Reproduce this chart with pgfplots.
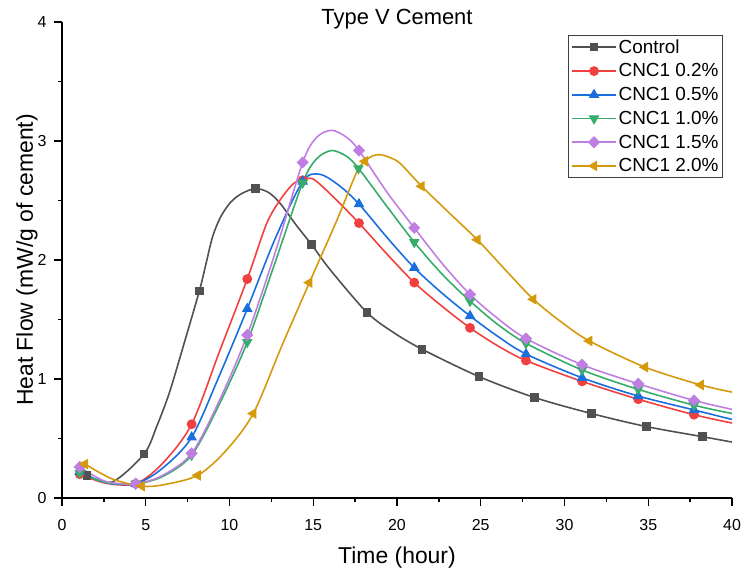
\documentclass[border=0pt]{standalone}
\usepackage{pgfplots}
\pgfplotsset{compat=1.18}
\usepackage{fontspec}
\setmainfont{Liberation Sans}
\definecolor{cCtrl}{HTML}{515151}
\definecolor{cRed}{HTML}{F14040}
\definecolor{cBlue}{HTML}{1A6FDF}
\definecolor{cGreen}{HTML}{37AD6B}
\definecolor{cPurple}{HTML}{BF7FE2}
\definecolor{cGold}{HTML}{D49A0B}
\begin{document}
\begin{tikzpicture}
\path[use as bounding box] (-62bp,-78bp) rectangle (687bp,498bp);
\begin{axis}[
  at={(0,0)}, anchor=south west, scale only axis,
  width=670bp, height=476bp,
  xmin=0, xmax=40, ymin=0, ymax=4,
  axis lines*=left,
  axis line style={line width=1.3bp, black},
  xtick={0,5,...,40}, ytick={0,1,2,3,4},
  minor x tick num=1, minor y tick num=1,
  tick align=outside,
  major tick length=8bp, minor tick length=4bp,
  every tick/.style={line width=1.3bp, black},
  /pgf/number format/assume math mode=true,
  ticklabel style={font=\fontsize{16}{19}\selectfont},
  xticklabel style={yshift=-10bp},
  yticklabel style={xshift=-4bp},
  xlabel={Time (hour)},
  ylabel={Heat Flow (mW/g of cement)},
  xlabel style={at={(axis description cs:0.5,-0.1366)}, anchor=base, font=\fontsize{23}{27}\selectfont},
  ylabel style={at={(axis description cs:-0.0433,0.5)}, anchor=base, rotate=0, font=\fontsize{23}{27}\selectfont},
  title={Type V Cement},
  title style={at={(axis description cs:0.5,1)}, anchor=base, yshift=-8bp, font=\fontsize{22}{26}\selectfont},
  legend cell align=left,
  legend style={at={(0.987,0.973)}, anchor=north east, draw=black!75, line width=0.8bp,
    font=\fontsize{19}{22}\selectfont, inner xsep=2.5bp, inner ysep=2.5bp, row sep=5.4bp,
    nodes={inner sep=1.8bp}},
  legend image code/.code={\draw[#1, line width=1.6bp, mark indices={2}] plot coordinates {(0bp,0bp) (22bp,0bp) (44bp,0bp)};},
]
\addplot[cCtrl, line width=1.6bp, smooth, mark=square*, mark size=3.8bp, mark options={solid, fill=cCtrl, draw=cCtrl, line width=1bp},
  mark indices={1,3,7,13,17,19,21,22,23,24,25,26}] coordinates {
(1.5,0.19) (3.0,0.135) (4.9,0.37) (5.65,0.60) (6.4,0.88) (7.25,1.28) (8.2,1.74) (8.6,1.97) (9.0,2.20) (9.5,2.37)
(10.1,2.49) (10.75,2.56) (11.55,2.60) (12.3,2.57) (13.0,2.48) (14.0,2.29) (14.9,2.13) (16.0,1.92) (18.2,1.56)
(19.8,1.39) (21.5,1.25) (24.9,1.02) (28.2,0.845) (31.6,0.71) (34.9,0.60) (38.25,0.515) (40,0.47)};
\addlegendentry{Control}
\addplot[cRed, line width=1.6bp, smooth, mark=*, mark size=4.4bp, mark options={solid, fill=cRed, draw=cRed, line width=1bp},
  mark indices={1,3,5,7,11,14,16,18,20,21,22,23}] coordinates {
(1.06,0.20) (2.6,0.125) (4.4,0.12) (6.0,0.29) (7.74,0.62) (9.4,1.23) (11.06,1.84) (12.2,2.30) (13.0,2.50) (13.8,2.64)
(14.37,2.67) (15.0,2.68) (16.2,2.53) (17.73,2.31) (19.4,2.05) (21.03,1.81) (22.7,1.61) (24.36,1.43) (26.0,1.28)
(27.7,1.155) (31.05,0.98) (34.4,0.83) (37.73,0.70) (40,0.63)};
\addlegendentry{CNC1 0.2\%}
\addplot[cBlue, line width=1.6bp, smooth, mark=triangle*, mark size=5.2bp, mark options={solid, fill=cBlue, draw=cBlue, line width=1bp},
  mark indices={1,3,5,7,9,12,14,16,18,19,20,21}] coordinates {
(1.06,0.22) (2.6,0.13) (4.4,0.12) (6.0,0.25) (7.74,0.51) (9.4,1.03) (11.06,1.59) (12.7,2.17) (14.37,2.66)
(15.4,2.72) (16.6,2.62) (17.73,2.47) (19.4,2.19) (21.03,1.935) (22.7,1.72) (24.36,1.53) (26.0,1.36)
(27.7,1.21) (31.05,1.01) (34.4,0.857) (37.73,0.74) (40,0.66)};
\addlegendentry{CNC1 0.5\%}
\addplot[cGreen, line width=1.6bp, smooth, mark=triangle*, mark size=5.2bp, mark options={solid, fill=cGreen, draw=cGreen, rotate=180, line width=1bp},
  mark indices={1,3,5,7,9,13,15,17,19,20,21,22}] coordinates {
(1.06,0.21) (2.6,0.13) (4.4,0.12) (6.0,0.18) (7.74,0.36) (9.4,0.79) (11.06,1.31) (12.7,1.97) (14.37,2.65)
(15.2,2.85) (16.1,2.92) (17.0,2.87) (17.7,2.77) (19.4,2.45) (21.03,2.15) (22.7,1.88) (24.36,1.655) (26.0,1.46)
(27.7,1.30) (31.05,1.076) (34.4,0.913) (37.73,0.78) (40,0.71)};
\addlegendentry{CNC1 1.0\%}
\addplot[cPurple, line width=1.6bp, smooth, mark=square*, mark size=3.8bp, mark options={solid, fill=cPurple, draw=cPurple, rotate=45, line width=1bp},
  mark indices={1,3,5,7,9,13,15,17,19,20,21,22}] coordinates {
(1.06,0.26) (2.6,0.14) (4.4,0.12) (6.0,0.19) (7.74,0.375) (9.4,0.82) (11.06,1.37) (12.7,2.05) (14.37,2.82)
(15.2,3.03) (16.1,3.09) (17.0,3.03) (17.73,2.92) (19.4,2.57) (21.03,2.27) (22.7,1.97) (24.36,1.71) (26.0,1.51)
(27.7,1.34) (31.05,1.12) (34.4,0.96) (37.73,0.82) (40,0.745)};
\addlegendentry{CNC1 1.5\%}
\addplot[cGold, line width=1.6bp, smooth, mark=triangle*, mark size=5.2bp, mark options={solid, fill=cGold, draw=cGold, rotate=90, line width=1bp},
  mark indices={1,3,5,7,9,12,17,19,21,23,24,25}] coordinates {
(1.37,0.285) (3.0,0.16) (4.76,0.10) (6.0,0.11) (8.1,0.19) (9.8,0.40) (11.42,0.71) (13.1,1.27) (14.77,1.81)
(16.4,2.33) (17.6,2.74) (18.09,2.83) (18.55,2.875) (19.0,2.885) (19.6,2.86) (20.2,2.81) (21.47,2.62) (23.16,2.39)
(24.8,2.17) (26.45,1.92) (28.14,1.67) (29.8,1.48) (31.48,1.32) (34.8,1.10) (38.13,0.95) (40,0.89)};
\addlegendentry{CNC1 2.0\%}
\end{axis}
\end{tikzpicture}
\end{document}
